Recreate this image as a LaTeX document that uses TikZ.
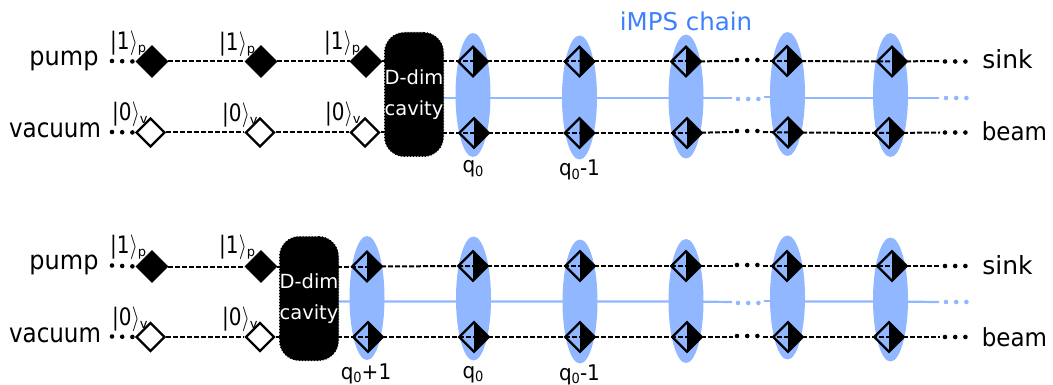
\documentclass[tikz,border=0pt]{standalone}
\usepackage{fontspec}
\usepackage{graphicx}
\setmainfont{DejaVu Sans}
\usetikzlibrary{shapes.geometric}
\pgfdeclarelayer{ell}
\pgfdeclarelayer{lines}
\pgfsetlayers{ell,lines,main}
\definecolor{lightb}{HTML}{90B7FF}
\definecolor{chainb}{HTML}{3D7FFF}
\newcommand{\sz}[1]{\fontsize{#1}{#1}\selectfont}
\newcommand{\tall}[2]{\scalebox{1}[#1]{#2}}
\newcommand{\ketlab}[2]{\tall{1.2}{\sz{20}|#1\kern0.2pt$\rangle$}\raisebox{-3pt}{\sz{13}#2}}
\newcommand{\qlab}[1]{\tall{1.08}{\sz{20}q\raisebox{-3pt}{\sz{13}0}#1}}
\tikzset{
  x=1pt,y=-1pt,
  fulld/.style={diamond,aspect=1,inner sep=0pt,minimum size=32pt,fill=black,draw=black,line width=0.8pt},
  whited/.style={diamond,aspect=1,inner sep=0pt,minimum size=29pt,fill=white,draw=black,line width=2.2pt},
  halfd/.style={diamond,aspect=1,inner sep=0pt,minimum size=30.5pt,draw=black,line width=2.2pt,
    path picture={\fill[black] (path picture bounding box.north) -- (path picture bounding box.east) -- (path picture bounding box.south) -- cycle;}},
  cav/.style={rectangle,rounded corners=20pt,minimum width=59pt,minimum height=124pt,inner sep=0pt,
    fill=black,draw=black,dotted,line width=1pt,text=white,align=center,font=\sz{19.5},text width=59pt},
  blob/.style={ellipse,inner sep=0pt,minimum width=35pt,minimum height=124pt,fill=lightb},
  dashln/.style={draw=black,line width=2pt,dash pattern=on 5pt off 2pt},
  dotblk/.style={draw=black,line width=4.6pt,line cap=round,dash pattern=on 0pt off 10.2pt},
  dotlit/.style={draw=lightb,line width=4.6pt,line cap=round,dash pattern=on 0pt off 10.2pt},
  lite/.style={draw=lightb,line width=2.2pt},
  side/.style={font=\sz{24},anchor=base,inner sep=0pt},
  sidevac/.style={font=\sz{23},anchor=base,inner sep=0pt},
  sidesink/.style={font=\sz{25},anchor=base,inner sep=0pt},
  ket/.style={anchor=base west,inner sep=0pt},
  qn/.style={anchor=base,inner sep=0pt},
}
\begin{document}
\begin{tikzpicture}
\useasboundingbox (0,0) rectangle (1053,385);
% ---------- top panel
\node[side] (pumpA) at (64,65.5) {\tall{1.08}{pump}};
\node[sidevac] (vacA) at (55,137.5) {\tall{1.15}{vacuum}};
\node[sidesink] (sinkA) at (1007.5,69) {sink};
\node[sidevac] (beamA) at (1014.5,141) {\tall{1.08}{beam}};
\node[anchor=base,inner sep=0pt,text=chainb,font=\sz{24.5}] (title) at (686,31) {iMPS chain};
\node[fulld] (a1) at (152,61.5) {};
\node[fulld] (a2) at (261,61.5) {};
\node[fulld] (a3) at (366,61.5) {};
\node[whited] (b1) at (150.5,132.5) {};
\node[whited] (b2) at (260,132.5) {};
\node[whited] (b3) at (365,132.5) {};
\node[ket] (ka1) at (110,50) {\ketlab{1}{p}};
\node[ket] (ka2) at (219,51) {\ketlab{1}{p}};
\node[ket] (ka3) at (324,50) {\ketlab{1}{p}};
\node[ket] (kb1) at (112,121) {\ketlab{0}{v}};
\node[ket] (kb2) at (222,122) {\ketlab{0}{v}};
\node[ket] (kb3) at (325,121) {\ketlab{0}{v}};
\node[cav] (cA) at (414,94.5) {D-dim\\[12pt]cavity};
\node[halfd] (a4) at (473,61.5) {};
\node[halfd] (a5) at (579.5,61.5) {};
\node[halfd] (a6) at (686,61.5) {};
\node[halfd] (a7) at (787,61) {};
\node[halfd] (a8) at (892,61.5) {};
\node[halfd] (b4) at (474,133) {};
\node[halfd] (b5) at (579.5,133) {};
\node[halfd] (b6) at (687,133) {};
\node[halfd] (b7) at (788,132.5) {};
\node[halfd] (b8) at (889,133) {};
\node[qn] (qA1) at (473,173) {\qlab{}};
\node[qn] (qA2) at (579.5,176) {\qlab{-1}};
\coordinate (aL) at (112,61);
\coordinate (bL) at (112,132);
\coordinate (aM) at (733,61);
\coordinate (bM) at (733,132);
\coordinate (aS) at (737,60);
\coordinate (aE) at (760,60);
\coordinate (bS) at (737,131);
\coordinate (bE) at (760,131);
\coordinate (aN) at (763,61);
\coordinate (bN) at (763,132);
\coordinate (aR) at (940,61);
\coordinate (bR) at (940,132.5);
\coordinate (aRs) at (945,61.5);
\coordinate (aRe) at (969,61.5);
\coordinate (bRs) at (945,132.5);
\coordinate (bRe) at (969,132.5);
\coordinate (lA) at (0,98);
\coordinate (lM) at (732,98);
\coordinate (lN) at (764,97);
\coordinate (lEnd) at (939,98);
\coordinate (lDs) at (738,99);
\coordinate (lDe) at (760,99);
\coordinate (lRs) at (946,98);
\coordinate (lRe) at (969,98);
\begin{pgfonlayer}{ell}
\node[blob] (eA1) at (473,95) {};
\node[blob] (eA2) at (579.5,97.5) {};
\node[blob] (eA3) at (686,96.5) {};
\node[blob] (eA4) at (787.5,94) {};
\node[blob] (eA5) at (890.5,95) {};
\end{pgfonlayer}
\begin{pgfonlayer}{lines}
\draw[lite] (cA.center |- lA) -- (eA1 |- lA) -- (eA2 |- lA) -- (eA3 |- lA) -- (lM);
\draw[lite] (lN) -- (eA4 |- lN);
\draw[lite] (eA4 |- lA) -- (eA5 |- lA) -- (lEnd);
\draw[dotlit] (lDs) -- (lDe);
\draw[dotlit] (lRs) -- (lRe);
\draw[dotblk] (aL) -- (a1.west);
\draw[dotblk] (bL) -- (b1.west);
\draw[dashln] (a1) -- (a2);
\draw[dashln] (a2) -- (a3);
\draw[dashln] (b1) -- (b2);
\draw[dashln] (b2) -- (b3);
\draw[dashln] (a3) -- (cA.center |- a3);
\draw[dashln] (b3) -- (cA.center |- b3);
\draw[dashln] (cA.center |- a4) -- (a4.center);
\draw[dashln] (cA.center |- b4) -- (b4.center);
\draw[dashln] (a4.center) -- (a5.center);
\draw[dashln] (a5.center) -- (a6.center);
\draw[dashln] (b4.center) -- (b5.center);
\draw[dashln] (b5.center) -- (b6.center);
\draw[dashln] (a6.center) -- (aM);
\draw[dashln] (b6.center) -- (bM);
\draw[dotblk] (aS) -- (aE);
\draw[dotblk] (bS) -- (bE);
\draw[dashln] (aN) -- (a7.center);
\draw[dashln] (bN) -- (b7.center);
\draw[dashln] (a7.center) -- (a8.center);
\draw[dashln] (b7.center) -- (b8.center);
\draw[dashln] (a8.center) -- (aR);
\draw[dashln] (b8.center) -- (bR);
\draw[dotblk] (aRs) -- (aRe);
\draw[dotblk] (bRs) -- (bRe);
\end{pgfonlayer}
% ---------- bottom panel
\node[side] (pumpB) at (64,269.5) {\tall{1.08}{pump}};
\node[sidevac] (vacB) at (55,342) {\tall{1.15}{vacuum}};
\node[sidesink] (sinkB) at (1007.5,274) {sink};
\node[sidevac] (beamB) at (1014.5,346) {\tall{1.08}{beam}};
\node[fulld] (c1) at (152,266.5) {};
\node[fulld] (c2) at (261,266.5) {};
\node[whited] (d1) at (150.5,337) {};
\node[whited] (d2) at (260,337) {};
\node[ket] (kc1) at (110,253) {\ketlab{1}{p}};
\node[ket] (kc2) at (219,253) {\ketlab{1}{p}};
\node[ket] (kd1) at (112,325) {\ketlab{0}{v}};
\node[ket] (kd2) at (222,325) {\ketlab{0}{v}};
\node[cav] (cB) at (309,298.5) {D-dim\\[12pt]cavity};
\node[halfd] (c3) at (367,266.5) {};
\node[halfd] (c4) at (473,266) {};
\node[halfd] (c5) at (580,266) {};
\node[halfd] (c6) at (686,266) {};
\node[halfd] (c7) at (787,266) {};
\node[halfd] (c8) at (892,266) {};
\node[halfd] (d3) at (368,337) {};
\node[halfd] (d4) at (474,337) {};
\node[halfd] (d5) at (580,337) {};
\node[halfd] (d6) at (687,337) {};
\node[halfd] (d7) at (788,337) {};
\node[halfd] (d8) at (889,337) {};
\node[qn] (qB0) at (366,379) {\qlab{+1}};
\node[qn] (qB1) at (473,378) {\qlab{}};
\node[qn] (qB2) at (579.5,380) {\qlab{-1}};
\coordinate (cL) at (112,265.5);
\coordinate (dL) at (112,336.5);
\coordinate (cM) at (733,266);
\coordinate (dM) at (733,337);
\coordinate (cS) at (737,265);
\coordinate (cE) at (760,265);
\coordinate (dS) at (737,336);
\coordinate (dE) at (760,336);
\coordinate (cN) at (763,266);
\coordinate (dN) at (763,337);
\coordinate (cR) at (940,266);
\coordinate (dR) at (940,337);
\coordinate (cRs) at (945,266);
\coordinate (cRe) at (969,266);
\coordinate (dRs) at (945,337);
\coordinate (dRe) at (969,337);
\coordinate (lB) at (0,301.5);
\coordinate (mM) at (732,302);
\coordinate (mN) at (764,301);
\coordinate (mEnd) at (939,302);
\coordinate (mDs) at (738,303);
\coordinate (mDe) at (760,303);
\coordinate (mRs) at (946,302);
\coordinate (mRe) at (969,302);
\begin{pgfonlayer}{ell}
\node[blob] (eB0) at (367,298) {};
\node[blob] (eB1) at (473.5,298.5) {};
\node[blob] (eB2) at (580,301.5) {};
\node[blob] (eB3) at (686,301) {};
\node[blob] (eB4) at (787.5,297.5) {};
\node[blob] (eB5) at (890.5,299.5) {};
\end{pgfonlayer}
\begin{pgfonlayer}{lines}
\draw[lite] (cB.center |- lB) -- (eB0 |- lB) -- (eB1 |- lB) -- (eB2 |- lB) -- (eB3 |- lB) -- (mM);
\draw[lite] (mN) -- (eB4 |- mN);
\draw[lite] (eB4 |- lB) -- (eB5 |- lB) -- (mEnd);
\draw[dotlit] (mDs) -- (mDe);
\draw[dotlit] (mRs) -- (mRe);
\draw[dotblk] (cL) -- (c1.west);
\draw[dotblk] (dL) -- (d1.west);
\draw[dashln] (c1) -- (c2);
\draw[dashln] (d1) -- (d2);
\draw[dashln] (c2) -- (cB.center |- c2);
\draw[dashln] (d2) -- (cB.center |- d2);
\draw[dashln] (cB.center |- c3) -- (c3.center);
\draw[dashln] (cB.center |- d3) -- (d3.center);
\draw[dashln] (c3.center) -- (c4.center);
\draw[dashln] (c4.center) -- (c5.center);
\draw[dashln] (c5.center) -- (c6.center);
\draw[dashln] (d3.center) -- (d4.center);
\draw[dashln] (d4.center) -- (d5.center);
\draw[dashln] (d5.center) -- (d6.center);
\draw[dashln] (c6.center) -- (cM);
\draw[dashln] (d6.center) -- (dM);
\draw[dotblk] (cS) -- (cE);
\draw[dotblk] (dS) -- (dE);
\draw[dashln] (cN) -- (c7.center);
\draw[dashln] (dN) -- (d7.center);
\draw[dashln] (c7.center) -- (c8.center);
\draw[dashln] (d7.center) -- (d8.center);
\draw[dashln] (c8.center) -- (cR);
\draw[dashln] (d8.center) -- (dR);
\draw[dotblk] (cRs) -- (cRe);
\draw[dotblk] (dRs) -- (dRe);
\end{pgfonlayer}
\end{tikzpicture}
\end{document}
